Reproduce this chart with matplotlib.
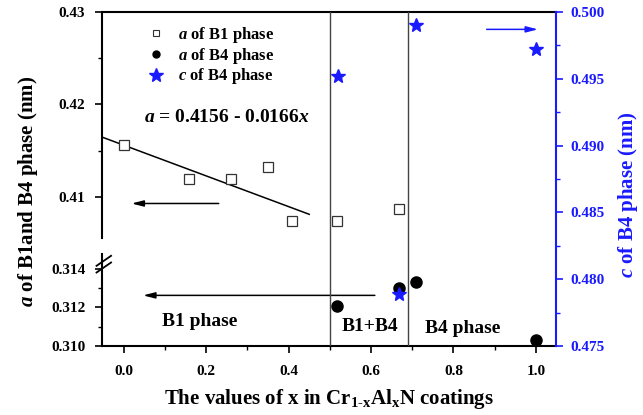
import matplotlib
matplotlib.use("Agg")
import matplotlib.pyplot as plt
from matplotlib.lines import Line2D
from matplotlib.ticker import MultipleLocator, FormatStrFormatter

plt.rcParams['font.family'] = ['Liberation Serif', 'DejaVu Serif']
plt.rcParams['font.weight'] = 'bold'
plt.rcParams['mathtext.fontset'] = 'custom'
plt.rcParams['mathtext.rm'] = 'Liberation Serif:bold'
plt.rcParams['mathtext.bf'] = 'Liberation Serif:bold'
plt.rcParams['mathtext.it'] = 'Liberation Serif:italic:bold'

# lattice parameter a of the B1 phase (nm)
x_b1 = [0.0, 0.158, 0.259, 0.350, 0.409, 0.518, 0.668]
a_b1 = [0.4156, 0.4120, 0.4120, 0.4132, 0.4074, 0.4074, 0.4087]

# lattice parameter a of the B4 phase (nm)
x_b4 = [0.518, 0.668, 0.709, 1.0]
a_b4 = [0.3121, 0.3130, 0.3133, 0.3103]

# lattice parameter c of the B4 phase (nm)
x_c = [0.52, 0.668, 0.709, 1.0]
c_b4 = [0.4952, 0.4789, 0.4990, 0.4972]

# linear fit a = a0 + k*x, drawn over this range of x
fit_a0 = 0.4156
fit_k = -0.0166
fit_range = [-0.05, 0.45]

# phase boundaries
boundaries = [0.5, 0.69]

blue = '#1a1aff'
fig = plt.figure(figsize=(6.43, 4.15), dpi=100)
L, W = 0.1586, 0.7061
bot, brk, top = 0.1663, 0.4096, 0.9711
ax_up = fig.add_axes([L, brk, W, top - brk])
ax_lo = fig.add_axes([L, bot, W, brk - bot], sharex=ax_up)
ax_r = fig.add_axes([L, bot, W, top - bot], sharex=ax_up)
ax_r.patch.set_alpha(0)

ax_up.set_xlim(-0.053, 1.049)
ax_up.set_ylim(0.40481, 0.43)
ax_lo.set_ylim(0.310, 0.315247)
ax_r.set_ylim(0.475, 0.500)

for ax in (ax_up, ax_lo, ax_r):
    for s in ax.spines.values():
        s.set_linewidth(1.5)
ax_up.spines['bottom'].set_visible(False)
ax_up.spines['right'].set_visible(False)
ax_lo.spines['top'].set_visible(False)
ax_lo.spines['right'].set_visible(False)
for s in ('left', 'top', 'bottom'):
    ax_r.spines[s].set_visible(False)
ax_r.spines['right'].set_color(blue)
ax_up.spines['left'].set_bounds(0.4056, 0.43)
ax_lo.spines['left'].set_bounds(0.310, 0.3148)

# ticks
ax_up.yaxis.set_major_locator(MultipleLocator(0.01))
ax_up.yaxis.set_major_formatter(FormatStrFormatter('%.2f'))
ax_up.set_yticks([0.415, 0.425], minor=True)
ax_lo.set_yticks([0.310, 0.312, 0.314])
ax_lo.set_yticks([0.311, 0.313], minor=True)
ax_lo.yaxis.set_major_formatter(FormatStrFormatter('%.3f'))
ax_lo.xaxis.set_major_locator(MultipleLocator(0.2))
ax_lo.xaxis.set_minor_locator(MultipleLocator(0.1))
ax_lo.xaxis.set_major_formatter(FormatStrFormatter('%.1f'))
ax_r.yaxis.tick_right()
ax_r.yaxis.set_major_locator(MultipleLocator(0.005))
ax_r.yaxis.set_minor_locator(MultipleLocator(0.0025))
ax_r.yaxis.set_major_formatter(FormatStrFormatter('%.3f'))

ax_up.tick_params(axis='x', which='both', bottom=False, labelbottom=False)
ax_r.tick_params(axis='x', which='both', bottom=False, labelbottom=False)
for ax in (ax_up, ax_lo):
    ax.tick_params(axis='y', which='major', direction='out', length=5, width=1.2,
                   labelsize=11, pad=7)
    ax.tick_params(axis='y', which='minor', direction='out', length=3, width=1)
ax_lo.tick_params(axis='x', which='major', direction='out', length=5, width=1.2,
                  labelsize=11, pad=9)
ax_lo.tick_params(axis='x', which='minor', direction='out', length=3, width=1)
ax_r.tick_params(axis='y', which='major', direction='out', length=5, width=1.2,
                 labelsize=11, pad=5, colors=blue)
ax_r.tick_params(axis='y', which='minor', direction='out', length=3, width=1,
                 colors=blue)

# break marks on the left axis
for dy in (-0.012, 0.008):
    ax_r.plot([-0.012, 0.02], [0.232 + dy, 0.262 + dy], color='k', lw=1.3,
              transform=ax_r.transAxes, clip_on=False)

# phase boundaries
for b in boundaries:
    ax_r.axvline(b, color='#444444', lw=1)

# data
ax_up.plot(x_b1, a_b1, 's', ms=7.5, mfc='white', mec='#333333', mew=0.9, zorder=5)
ax_up.plot(fit_range, [fit_a0 + fit_k * v for v in fit_range], color='k', lw=1.1)
ax_lo.plot(x_b4, a_b4, 'o', ms=8, color='black', zorder=5)
ax_r.plot(x_c, c_b4, '*', ms=10, color=blue, zorder=6)

# arrows
ax_up.annotate('', xy=(0.012, 0.4093), xytext=(0.237, 0.4093),
               arrowprops=dict(arrowstyle='-|>,head_length=0.7,head_width=0.18',
                               color='k', lw=1.1))
ax_lo.annotate('', xy=(0.04, 0.31263), xytext=(0.616, 0.31263),
               arrowprops=dict(arrowstyle='-|>,head_length=0.7,head_width=0.18',
                               color='k', lw=1.1))
ax_r.annotate('', xy=(1.012, 0.4987), xytext=(0.874, 0.4987),
              arrowprops=dict(arrowstyle='-|>,head_length=0.7,head_width=0.18',
                              color=blue, lw=1.1))

# texts
ax_up.text(0.25, 0.4186, r'$a$ = 0.4156 - 0.0166$x$', fontsize=14,
           ha='center', va='center')
ax_lo.text(0.185, 0.31126, 'B1 phase', fontsize=14, ha='center', va='center')
ax_lo.text(0.597, 0.3110, 'B1+B4', fontsize=14, ha='center', va='center')
ax_lo.text(0.822, 0.31093, 'B4 phase', fontsize=14, ha='center', va='center')

fig.text(0.044, 0.54, r'$a$ of B1and B4 phase (nm)', rotation=90,
         fontsize=15, ha='center', va='center')
fig.text(0.5124, 0.038, r'The values of x in Cr$_{\text{1-x}}$Al$_{\mathrm{x}}$N coatings',
         fontsize=15, ha='center', va='center')
fig.text(0.977, 0.53, r'$c$ of B4 phase (nm)', rotation=90, color=blue,
         fontsize=15, ha='center', va='center')

# legend
handles = [
    Line2D([], [], ls='none', marker='s', ms=5, mfc='white', mec='#333333', mew=0.8),
    Line2D([], [], ls='none', marker='o', ms=5, color='black'),
    Line2D([], [], ls='none', marker='*', ms=10, color=blue),
]
labels = [r'$a$ of B1 phase', r'$a$ of B4 phase', r'$c$ of B4 phase']
ax_r.legend(handles, labels, loc='upper left', bbox_to_anchor=(0.101, 0.962),
            frameon=False, fontsize=12, handlelength=1.0, handletextpad=0.8,
            labelspacing=0.05, borderpad=0, borderaxespad=0)

fig.savefig('out.png', dpi=100, facecolor='white')
